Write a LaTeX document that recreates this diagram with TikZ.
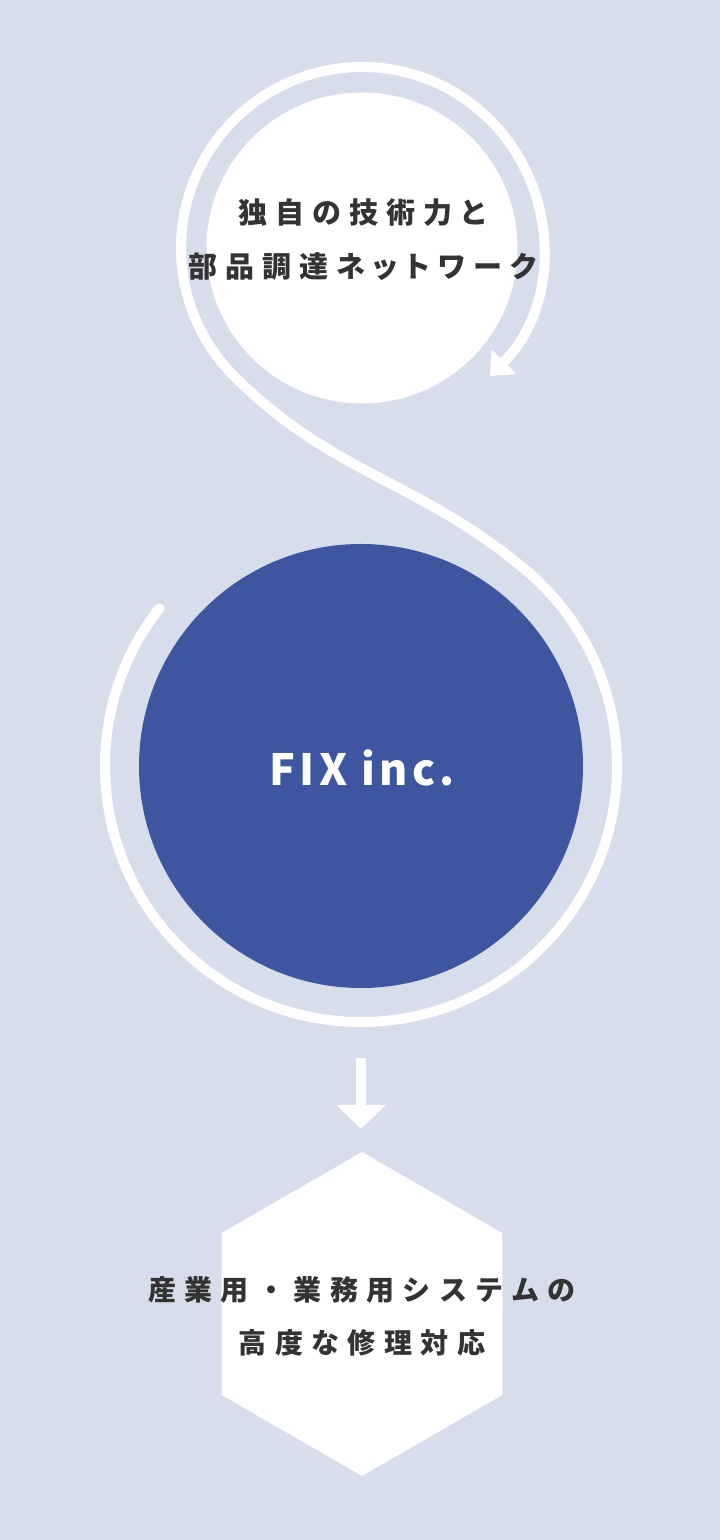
\documentclass[tikz,border=0pt]{standalone}
\usepackage{fontspec}
\usetikzlibrary{arrows.meta,positioning}
\newfontfamily\jpfont{Noto Sans CJK JP}[LetterSpace=28,RawFeature=+palt]
\newfontfamily\hexfont{Noto Sans CJK JP}[LetterSpace=30]
\newfontfamily\logofont{Noto Sans CJK JP}[LetterSpace=10]
\definecolor{bgcol}{HTML}{D8DDEB}
\definecolor{fixblue}{HTML}{3E55A0}
\definecolor{textcol}{HTML}{333333}

\begin{document}
\begin{tikzpicture}[x=1pt, y=1pt,
    ring/.style={white, line width=10pt, line cap=round},
    jptext/.style={text=textcol, align=center, inner sep=0pt}]
    \fill[bgcol] (0,0) rectangle (720,1540);
    \useasboundingbox (0,0) rectangle (720,1540);
    \node [circle, fill=white, minimum size=311pt, inner sep=0pt](top) at (362,1292){};
    \node [circle, fill=fixblue, minimum size=444pt, inner sep=0pt](fix) at (361,774){};
    \coordinate (hextop) at (362,388);
    \fill [white] (hextop) --++ (210:162) --++ (270:162) --++ (330:162) --++ (30:162) --++ (90:162) -- cycle;
    \draw [ring, -{Triangle[width=34pt, length=20pt]}]
    ([shift={(142:256)}]fix.center) arc[start angle=142, end angle=410, radius=256]
    .. controls +(140:140) and +(-45:140) .. ([shift={(225:181)}]top.center)
    arc[start angle=225, end angle=-45, radius=181];
    \draw [white, line width=10pt, -{Triangle[width=48pt, length=24pt]}]
    ([yshift=-70pt]fix.south) -- ([yshift=23pt]fix.south |- hextop);
    \node [jptext, font=\jpfont\bfseries\fontsize{29}{54}\selectfont](toptext) at (362,1300){独自の技術力と\\部品調達ネットワーク};
    \node [text=white, inner sep=0pt, font=\logofont\bfseries\fontsize{43}{50}\selectfont](fixtext) at (362,772){FIX inc.};
    \node [jptext, font=\hexfont\bfseries\fontsize{28}{53}\selectfont](hextext) at (362,224){産業用・業務用システムの\\高度な修理対応};
\end{tikzpicture}
\end{document}
